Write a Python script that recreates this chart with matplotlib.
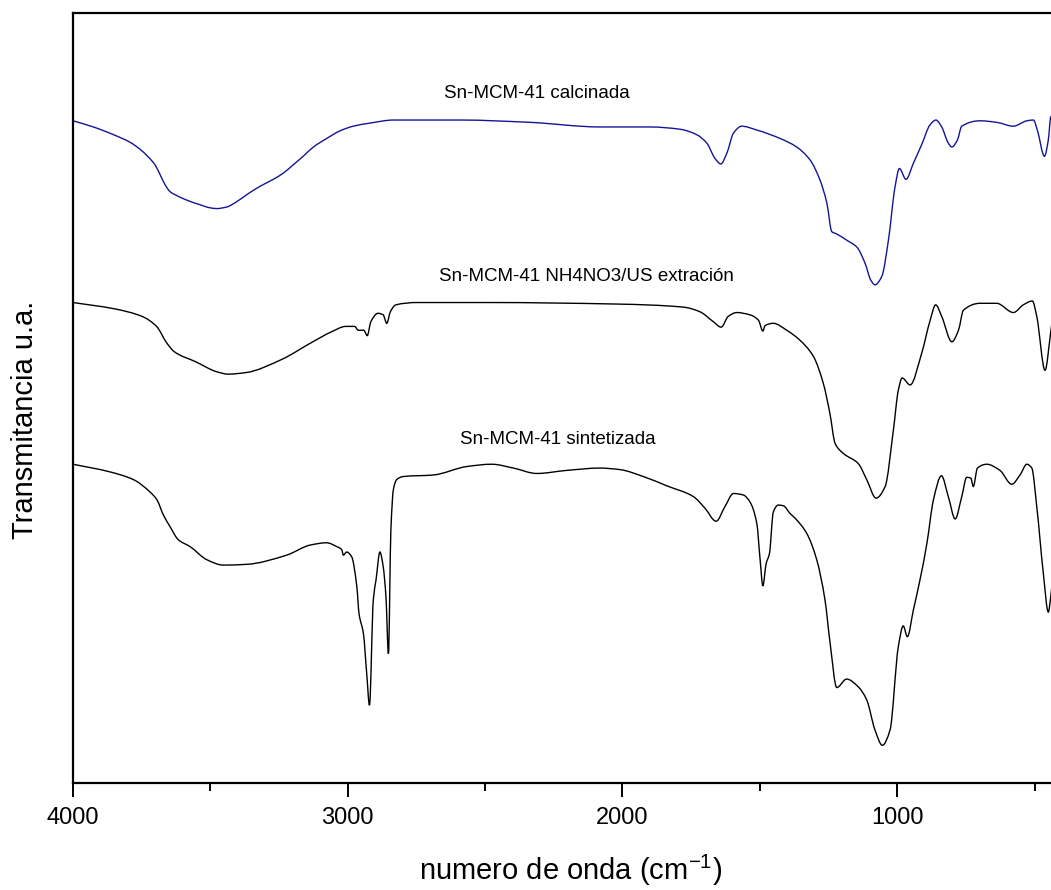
import matplotlib
matplotlib.use("Agg")
import numpy as np
import matplotlib.pyplot as plt
from matplotlib.path import Path
from matplotlib.patches import PathPatch
from matplotlib.ticker import MultipleLocator

plt.rcParams['font.family'] = ['Liberation Sans', 'DejaVu Sans']
plt.rcParams['mathtext.fontset'] = 'custom'
plt.rcParams['mathtext.rm'] = 'Liberation Sans'
plt.rcParams['mathtext.it'] = 'Liberation Sans:italic'

wn_calc = [4000, 3926, 3853, 3792, 3756, 3726, 3702, 3683, 3665, 3647, 3623, 3586,
           3538, 3501, 3477, 3441, 3404, 3368, 3319, 3271, 3235, 3198, 3162, 3125,
           3077, 3028, 2980, 2919, 2834, 2713, 2591, 2337, 2082, 1900, 1790, 1730,
           1693, 1663, 1642, 1620, 1596, 1566, 1511, 1426, 1366, 1317, 1281, 1256,
           1238, 1220, 1184, 1147, 1117, 1096, 1081, 1056, 1032, 1008, 992, 968,
           941, 911, 880, 859, 838, 814, 801, 781, 765, 698, 638, 577, 528, 504,
           490, 464, 450, 441, 425]
t_calc = [86.0, 85.2, 84.2, 83.2, 82.3, 81.3, 80.3, 79.0, 77.7, 76.8, 76.3, 75.7,
          75.1, 74.7, 74.6, 74.8, 75.5, 76.4, 77.5, 78.4, 79.2, 80.3, 81.4, 82.6,
          83.7, 84.7, 85.3, 85.7, 86.1, 86.1, 86.1, 85.8, 85.2, 85.2, 84.9, 84.2,
          83.1, 81.1, 80.4, 81.8, 84.4, 85.3, 84.8, 83.7, 82.6, 80.9, 78.3, 75.3,
          71.6, 71.3, 70.5, 69.6, 67.5, 65.3, 64.7, 65.8, 70.5, 77.4, 79.8, 78.4,
          80.5, 82.9, 85.5, 86.1, 85.2, 83.1, 82.6, 83.5, 85.3, 86.0, 85.8, 85.3,
          86.0, 86.1, 84.8, 81.4, 83.5, 86.5, 87.0]

wn_ext = [4000, 3852, 3749, 3696, 3658, 3631, 3553, 3476, 3436, 3371, 3241, 3137,
          3059, 3007, 2975, 2962, 2942, 2929, 2916, 2890, 2871, 2858, 2845, 2825,
          2747, 2487, 2020, 1778, 1718, 1669, 1641, 1615, 1584, 1536, 1505, 1489,
          1481, 1451, 1402, 1354, 1305, 1269, 1245, 1226, 1196, 1142, 1111, 1077,
          1044, 1014, 996, 982, 953, 911, 880, 860, 838, 801, 777, 759, 698, 638,
          577, 541, 508, 492, 462, 441, 425]
t_ext = [62.4, 61.6, 60.6, 59.3, 57.1, 56.0, 54.7, 53.4, 53.1, 53.3, 55.0, 57.1,
         58.6, 59.3, 59.3, 58.8, 58.8, 58.1, 59.9, 61.0, 60.8, 59.7, 61.2, 62.1,
         62.4, 62.4, 62.2, 61.8, 61.2, 59.9, 59.2, 60.6, 61.1, 60.8, 60.1, 58.7,
         59.4, 59.7, 58.8, 57.5, 55.4, 51.9, 48.0, 44.1, 42.8, 41.5, 39.4, 37.0,
         38.5, 45.8, 51.0, 52.6, 51.7, 55.8, 60.1, 62.1, 60.6, 57.3, 58.8, 61.4,
         62.3, 62.3, 61.1, 62.1, 62.6, 60.6, 53.6, 58.6, 63.0]

wn_sint = [4000, 3865, 3780, 3720, 3695, 3671, 3647, 3617, 3574, 3513, 3453, 3368,
           3222, 3137, 3077, 3040, 3022, 3016, 3004, 2986, 2967, 2959, 2943, 2931,
           2921, 2907, 2897, 2883, 2871, 2861, 2852, 2843, 2834, 2822, 2798, 2689,
           2567, 2476, 2397, 2312, 2203, 2082, 2009, 1924, 1839, 1742, 1700, 1659,
           1627, 1596, 1560, 1536, 1511, 1499, 1489, 1477, 1465, 1451, 1433, 1414,
           1390, 1372, 1329, 1293, 1263, 1244, 1220, 1184, 1142, 1111, 1081, 1054,
           1026, 996, 978, 963, 941, 917, 892, 868, 839, 814, 789, 765, 747, 732,
           723, 708, 674, 626, 583, 553, 528, 510, 492, 468, 450, 441, 425]
t_sint = [41.4, 40.4, 39.4, 37.8, 36.8, 34.8, 33.3, 31.6, 30.7, 29.0, 28.3, 28.4,
          29.6, 30.9, 31.2, 30.7, 30.3, 29.6, 30.0, 29.4, 25.5, 22.0, 19.4, 14.2,
          10.1, 23.8, 26.4, 30.0, 28.1, 24.2, 16.8, 32.9, 38.1, 39.4, 39.8, 40.0,
          41.1, 41.4, 40.9, 40.2, 40.6, 40.9, 40.7, 39.8, 38.6, 37.2, 35.7, 34.0,
          35.9, 37.6, 37.4, 36.5, 33.7, 29.0, 25.6, 28.5, 29.8, 35.2, 36.1, 36.0,
          35.0, 34.4, 32.4, 29.0, 23.8, 18.1, 12.4, 13.5, 12.5, 10.8, 6.9, 4.9,
          6.9, 17.7, 20.4, 19.0, 22.5, 26.4, 31.1, 36.8, 39.9, 37.2, 34.3, 37.2,
          39.7, 39.6, 38.5, 40.9, 41.4, 40.6, 38.8, 40.0, 41.4, 40.9, 35.9, 27.2,
          22.2, 24.2, 30.0]

labels = ['Sn-MCM-41 calcinada', 'Sn-MCM-41 NH4NO3/US extración', 'Sn-MCM-41 sintetizada']
label_wn = [2311, 2133, 2235]
label_t = [89.6, 65.8, 44.6]


def spline_path(x, y):
    # curva suave (tipo PCHIP) entre los puntos leidos, sin sobreoscilaciones
    x = np.asarray(x, float)
    y = np.asarray(y, float)
    h = np.diff(x)
    d = np.diff(y) / h
    m = np.zeros_like(x)
    m[0], m[-1] = d[0], d[-1]
    for k in range(1, len(x) - 1):
        if d[k - 1] * d[k] > 0:
            w1 = 2 * h[k] + h[k - 1]
            w2 = h[k] + 2 * h[k - 1]
            m[k] = (w1 + w2) / (w1 / d[k - 1] + w2 / d[k])
    verts = [(x[0], y[0])]
    codes = [Path.MOVETO]
    for k in range(len(x) - 1):
        verts += [(x[k] + h[k] / 3, y[k] + m[k] * h[k] / 3),
                  (x[k + 1] - h[k] / 3, y[k + 1] - m[k + 1] * h[k] / 3),
                  (x[k + 1], y[k + 1])]
        codes += [Path.CURVE4] * 3
    return Path(verts, codes)


fig = plt.figure(figsize=(10.51, 8.90), dpi=100)
ax = fig.add_axes([0.0695, 0.1202, 0.941, 0.8652])

for xs, ys, col in [(wn_calc, t_calc, '#141496'), (wn_ext, t_ext, 'black'),
                    (wn_sint, t_sint, 'black')]:
    ax.add_patch(PathPatch(spline_path(xs, ys), fill=False, edgecolor=col, lw=1.0))

for s, xw, yt in zip(labels, label_wn, label_t):
    ax.text(xw, yt, s, ha='center', va='center', fontsize=13.5)

ax.set_xlim(4000, 400)
ax.set_ylim(0, 100)
ax.set_yticks([])
ax.xaxis.set_major_locator(MultipleLocator(1000))
ax.xaxis.set_minor_locator(MultipleLocator(500))
ax.tick_params(axis='x', which='major', direction='out', length=10, width=1.4,
               labelsize=17, pad=7)
ax.tick_params(axis='x', which='minor', direction='out', length=5.5, width=1.4)
for sp in ax.spines.values():
    sp.set_linewidth(1.6)

ax.set_xlabel('numero de onda (cm$^{-1}$)', fontsize=21, va='center')
ax.xaxis.set_label_coords(0.5035, -0.1135)
ax.set_ylabel('Transmitancia u.a.', fontsize=21, va='center')
ax.yaxis.set_label_coords(-0.0485, 0.471)

fig.savefig('out.png', dpi=100)
